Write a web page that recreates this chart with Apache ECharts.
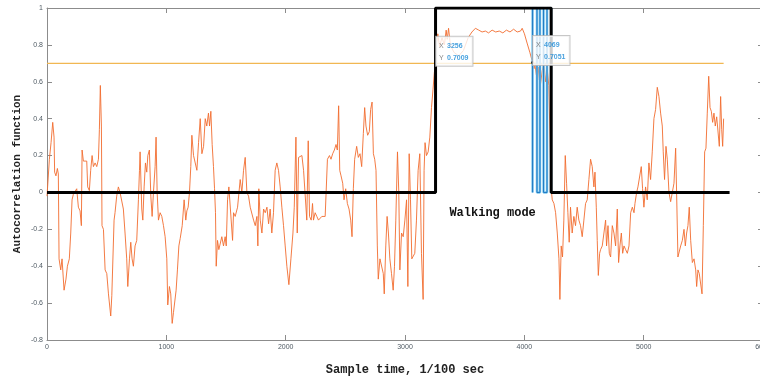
<!DOCTYPE html>
<html>
<head>
<meta charset="utf-8">
<script src="https://cdn.jsdelivr.net/npm/echarts@6/dist/echarts.min.js"></script>
<style>
  html, body { margin: 0; padding: 0; background: #fff; }
  #chart { width: 760px; height: 378px; }
</style>
</head>
<body>
<div id="chart"></div>
<script>
// autocorrelation trace (sample time, value)
var acfTime = [0,20,34,48,59,64,75,87,95,101,115,126,143,159,171,187,199,210,221,235,249,263,277,288,294,305,319,333,341,355,366,378,389,403,417,431,439,447,456,461,473,487,501,515,523,534,543,551,562,570,584,598,612,626,640,654,668,677,691,702,713,724,738,752,766,775,780,794,803,814,825,836,845,858,870,881,892,906,914,923,934,948,962,976,990,1004,1012,1026,1037,1049,1060,1071,1082,1093,1105,1116,1133,1149,1163,1172,1183,1194,1205,1214,1228,1242,1256,1270,1284,1298,1312,1326,1339,1353,1362,1373,1384,1395,1404,1412,1418,1429,1440,1451,1465,1479,1493,1502,1513,1524,
  1535,1555,1563,1577,1597,1619,1633,1647,1661,1675,1689,1703,1717,1731,1745,1759,1767,1775,1787,1801,1815,1829,1843,1857,1870,1884,1898,1912,1926,1940,1954,1968,1982,1996,2010,2027,2044,2061,2072,2086,2097,2108,2122,2136,2150,2163,2177,2189,2200,2214,2225,2233,2247,2261,2275,2289,2303,2317,2331,2339,2350,2367,2380,2394,2408,2422,2433,2444,2453,2464,2478,2489,2503,2517,2531,2545,2556,2567,2578,2595,2609,2623,2637,2651,2662,2673,2687,2701,2712,2724,2735,2746,2757,2768,2776,2790,2804,2818,2826,2839,2850,2861,2873,2887,2901,2912,2923,2937,2948,2957,2971,2985,2999,3013,3024,3035,3046,3057,3068,3082,3096,3110,3124,3138,3152,3160,3168,3180,3194,3208,3222,3235,3246,
  3256,3262,3275,3290,3310,3330,3345,3354,3365,3380,3410,3450,3490,3530,3561,3590,3618,3646,3674,3700,3730,3760,3790,3820,3850,3880,3910,3940,3968,3982,4001,4023,4046,4069,4080,4090,4100,4112,4122,4136,4150,4164,4178,4192,4205,4215,4225,
  4234,4248,4262,4276,4290,4298,4309,4320,4331,4343,4354,4365,4376,4387,4401,4415,4429,4443,4457,4471,4485,4499,4513,4527,4541,4555,4569,4583,4592,4603,4611,4620,4631,4639,4653,4667,4681,4689,4701,4712,4723,4737,4751,4765,4779,4790,4801,4813,4824,4835,4849,4863,4877,4891,4905,4919,4927,4941,4952,4966,4980,4991,5002,5016,5030,5044,5058,5072,5086,5100,5114,5128,5142,5156,5164,5175,5187,5198,5212,5226,5240,5254,5268,5276,5287,5298,5310,5324,5338,5349,5360,5371,5382,5394,5408,5422,5436,5444,5455,5466,5478,5489,5500,5511,5522,5533,5545,5556,5567,5578,5589,5600,5612,5623,5634,5645,5654,5662,5670];
var acfValue = [-0.02,0.18,0.27,0.38,0.30,0.11,0.09,0.13,0.10,-0.36,-0.42,-0.36,-0.53,-0.47,-0.40,-0.36,-0.22,-0.04,-0.01,0.0,0.02,-0.08,-0.10,-0.18,0.23,0.17,0.17,0.17,0.03,0.01,0.12,0.20,0.14,0.16,0.14,0.18,0.34,0.58,0.36,-0.18,-0.20,-0.42,-0.44,-0.55,-0.56,-0.67,-0.56,-0.55,-0.15,-0.11,-0.02,0.03,0.0,-0.01,-0.09,-0.22,-0.36,-0.51,-0.36,-0.27,-0.36,-0.40,-0.29,-0.26,-0.04,0.12,0.22,-0.09,-0.15,0.03,0.16,0.11,0.20,0.23,-0.02,-0.13,0.0,0.14,0.30,0.0,-0.15,-0.11,-0.13,-0.18,-0.24,-0.36,-0.61,-0.51,-0.55,-0.71,-0.65,-0.65,-0.53,-0.42,-0.29,-0.25,-0.18,-0.04,-0.15,-0.10,-0.08,0.0,0.14,0.31,0.20,0.21,0.12,0.27,0.40,0.21,0.25,0.40,0.36,0.43,0.36,0.44,0.26,0.14,0.02,-0.11,-0.40,-0.26,-0.31,-0.31,-0.24,-0.29,-0.24,-0.29,-0.04,0.03,
  0.03,-0.26,-0.11,-0.13,-0.08,0.07,0.0,0.12,0.19,0.0,-0.02,-0.08,-0.07,-0.15,-0.18,-0.13,-0.29,0.02,-0.15,-0.22,-0.09,-0.11,-0.08,-0.17,-0.09,-0.22,-0.11,0.12,0.16,0.12,0.03,-0.08,-0.18,-0.29,-0.40,-0.50,-0.36,-0.22,-0.08,0.30,-0.22,0.19,0.18,0.20,0.12,0.11,-0.15,0.28,-0.13,-0.15,-0.06,-0.15,-0.11,-0.13,-0.15,-0.16,-0.13,-0.14,-0.13,0.0,0.18,0.20,0.18,0.21,0.23,0.26,0.23,0.47,0.12,0.09,0.05,-0.04,0.02,-0.06,-0.09,-0.15,-0.24,0.02,0.18,0.25,0.19,0.21,0.14,0.32,0.46,0.36,0.31,0.33,0.45,0.49,0.21,0.18,0.12,-0.29,-0.47,-0.36,-0.35,-0.44,-0.55,-0.29,-0.13,-0.22,-0.36,-0.44,-0.53,-0.40,-0.15,0.22,0.0,-0.42,-0.22,-0.24,-0.15,-0.04,-0.51,0.21,-0.04,-0.36,-0.36,-0.33,-0.15,0.12,0.21,-0.33,-0.58,0.12,0.27,0.20,0.22,0.30,0.46,0.56,0.65,
  0.70,0.80,0.86,0.79,0.84,0.80,0.88,0.83,0.89,0.80,0.76,0.74,0.77,0.84,0.87,0.89,0.88,0.87,0.875,0.865,0.88,0.87,0.875,0.865,0.88,0.87,0.885,0.87,0.875,0.89,0.86,0.81,0.76,0.705,0.67,0.69,0.64,0.61,0.68,0.59,0.66,0.70,0.60,0.67,0.58,0.30,0.02,
  -0.04,-0.06,-0.11,-0.22,-0.36,-0.58,-0.29,-0.35,-0.15,0.20,0.05,-0.11,-0.27,-0.08,-0.22,-0.13,-0.18,-0.08,-0.15,-0.18,-0.24,-0.15,-0.06,-0.04,0.07,0.18,0.14,0.03,0.11,-0.08,-0.26,-0.45,-0.33,-0.31,-0.29,-0.22,-0.15,-0.29,-0.18,-0.33,-0.35,-0.18,-0.22,-0.29,-0.09,-0.38,-0.29,-0.22,-0.33,-0.29,-0.31,-0.33,-0.29,-0.11,-0.08,-0.11,-0.06,0.0,0.03,0.03,0.14,0.02,-0.08,0.03,-0.04,0.16,0.07,0.22,0.40,0.45,0.57,0.52,0.43,0.36,0.22,0.07,0.25,0.18,0.0,-0.05,-0.04,0.05,0.24,0.0,-0.35,-0.36,-0.29,-0.26,-0.20,-0.29,-0.22,-0.18,-0.08,-0.26,-0.38,-0.36,-0.42,-0.51,-0.42,-0.44,-0.44,-0.55,-0.18,0.22,0.24,0.43,0.63,0.46,0.44,0.38,0.43,0.36,0.41,0.40,0.25,0.52,0.34,0.25,0.40];

// walking mode flag (black)
var modeTime = [0, 3256, 3256, 4225, 4225, 5720];
var modeValue = [0, 0, 1, 1, 0, 0];

// detector output (blue)
var stepTime = [4069, 4069, 4106, 4106, 4131, 4131, 4161, 4161, 4190, 4190, 4224, 4224, 5670];
var stepValue = [0, 1, 1, 0, 0, 1, 1, 0, 0, 1, 1, 0, 0];

// threshold
var thresholdTime = [0, 5670];
var thresholdValue = [0.7, 0.7];

// data tips
var tipTime = [3256, 4069];
var tipValue = [0.7009, 0.7051];

var xTicks = { min: 0, max: 6000, interval: 1000 };
var yTicks = { min: -0.8, max: 1, interval: 0.2 };

function pairs(xs, ys) {
    return xs.map(function (x, i) { return [x, ys[i]]; });
}

var axisGrey = '#8c8c8c';
var tickFont = { fontSize: 7, color: '#4f5a63', fontFamily: 'Liberation Sans' };

var chart = echarts.init(document.getElementById('chart'));
var option = {
    animation: false,
    grid: { left: 47, right: -3, top: 8, bottom: 38, containLabel: false, outerBoundsMode: 'none' },
    xAxis: [{
        type: 'value', min: xTicks.min, max: xTicks.max, interval: xTicks.interval,
        name: 'Sample time, 1/100 sec', nameLocation: 'middle', nameGap: 24,
        nameTextStyle: { fontFamily: 'Liberation Mono', fontWeight: 'bold', fontSize: 12, color: '#222' },
        axisLine: { show: true, onZero: false, lineStyle: { color: axisGrey, width: 1 } },
        axisTick: { show: true, inside: true, length: 5, lineStyle: { color: axisGrey } },
        axisLabel: Object.assign({ margin: 4, formatter: function (v) { return String(v); } }, tickFont),
        splitLine: { show: false }
    }, {
        type: 'value', position: 'top', min: xTicks.min, max: xTicks.max, interval: xTicks.interval,
        axisLine: { show: true, onZero: false, lineStyle: { color: axisGrey, width: 1 } },
        axisTick: { show: true, inside: true, length: 5, lineStyle: { color: axisGrey } },
        axisLabel: { show: false },
        splitLine: { show: false }
    }],
    yAxis: [{
        type: 'value', min: yTicks.min, max: yTicks.max, interval: yTicks.interval,
        name: 'Autocorrelation function', nameLocation: 'middle', nameGap: 24, nameMoveOverlap: false,
        nameTextStyle: { fontFamily: 'Liberation Mono', fontWeight: 'bold', fontSize: 11, color: '#222' },
        axisLine: { show: true, onZero: false, lineStyle: { color: axisGrey, width: 1 } },
        axisTick: { show: true, inside: true, length: 5, lineStyle: { color: axisGrey } },
        axisLabel: Object.assign({ margin: 4 }, tickFont),
        splitLine: { show: false }
    }, {
        type: 'value', position: 'right', min: yTicks.min, max: yTicks.max, interval: yTicks.interval,
        axisLine: { show: true, onZero: false, lineStyle: { color: axisGrey, width: 1 } },
        axisTick: { show: true, inside: true, length: 5, lineStyle: { color: axisGrey } },
        axisLabel: { show: false },
        splitLine: { show: false }
    }],
    series: [
        {
            type: 'line', name: 'threshold', data: pairs(thresholdTime, thresholdValue),
            showSymbol: false, silent: true, z: 1,
            lineStyle: { color: '#f1b752', width: 1.2 }
        },
        {
            type: 'line', name: 'acf', data: pairs(acfTime, acfValue),
            showSymbol: false, silent: true, z: 2,
            lineStyle: { color: '#f26d30', width: 1, opacity: 0.9 }
        },
        {
            type: 'line', name: 'step', data: pairs(stepTime, stepValue),
            showSymbol: false, silent: true, z: 3,
            lineStyle: { color: '#7cc8ee', width: 2.5 }
        },
        {
            type: 'line', name: 'step2', data: pairs(stepTime, stepValue),
            showSymbol: false, silent: true, z: 3,
            lineStyle: { color: '#1f78c4', width: 1 }
        },
        {
            type: 'line', name: 'mode', data: pairs(modeTime, modeValue),
            showSymbol: false, silent: true, z: 4,
            lineStyle: { color: '#000', width: 3 },
            markPoint: {
                symbolSize: 0,
                data: [{ coord: [3372, -0.11], value: 'Walking mode' }],
                label: {
                    show: true, position: 'right', distance: 0, formatter: 'Walking mode',
                    fontFamily: 'Liberation Mono', fontWeight: 'bold', fontSize: 12, color: '#111'
                }
            }
        },
        {
            type: 'scatter', name: 'tips', data: pairs(tipTime, tipValue),
            symbol: 'circle', symbolSize: 3, z: 10,
            itemStyle: { color: '#000' },
            label: {
                show: true, position: [2, -25], align: 'left', verticalAlign: 'top',
                backgroundColor: '#fff', borderColor: '#b9b9b9', borderWidth: 1,
                padding: [3, 4, 2, 3],
                formatter: function (p) {
                    return '{k|X} {v|' + p.value[0] + '}\n{k|Y} {v|' + p.value[1].toFixed(4) + '}';
                },
                rich: {
                    k: { fontSize: 7, color: '#666', fontFamily: 'Liberation Sans', lineHeight: 10 },
                    v: { fontSize: 7, color: '#1a8ad6', fontWeight: 'bold', fontFamily: 'Liberation Sans', lineHeight: 10 }
                }
            }
        }
    ]
};
chart.setOption(option);
</script>
</body>
</html>
